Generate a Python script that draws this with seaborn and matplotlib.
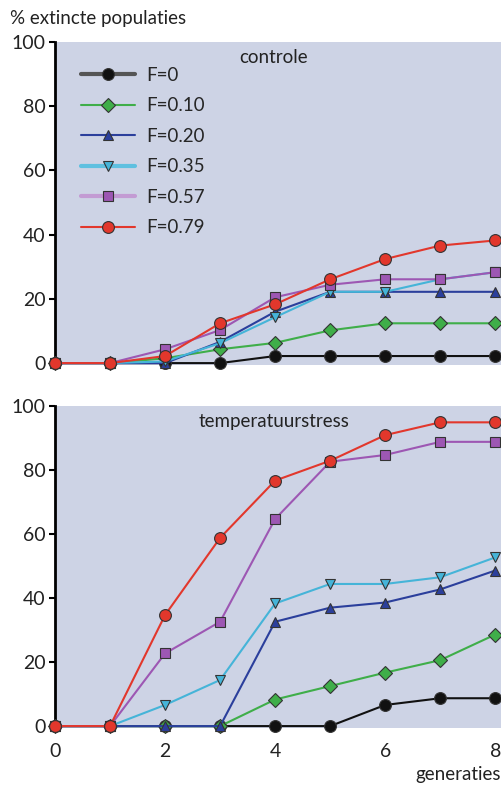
import pandas as pd
import matplotlib
matplotlib.use("Agg")
import matplotlib.pyplot as plt
import seaborn as sns

# Data
generaties = [0, 1, 2, 3, 4, 5, 6, 7, 8]
f_labels = ["F=0", "F=0.10", "F=0.20", "F=0.35", "F=0.57", "F=0.79"]

controle_f000 = [0, 0, 0, 0, 2.2, 2.2, 2.2, 2.2, 2.2]
controle_f010 = [0, 0, 1.5, 4.3, 6.3, 10.2, 12.4, 12.4, 12.4]
controle_f020 = [0, 0, 0, 6.6, 16.0, 22.2, 22.2, 22.2, 22.2]
controle_f035 = [0, 0, 0.5, 6.2, 14.3, 22.2, 22.2, 26.1, 28.3]
controle_f057 = [0, 0, 4.3, 10.3, 20.5, 24.4, 26.1, 26.1, 28.3]
controle_f079 = [0, 0, 2.2, 12.4, 18.3, 26.1, 32.4, 36.6, 38.2]

stress_f000 = [0, 0, 0, 0, 0, 0, 6.6, 8.7, 8.7]
stress_f010 = [0, 0, 0, 0, 8.3, 12.5, 16.7, 20.6, 28.6]
stress_f020 = [0, 0, 0, 0, 32.6, 37.0, 38.6, 42.7, 48.6]
stress_f035 = [0, 0, 6.6, 14.4, 38.3, 44.4, 44.4, 46.5, 52.7]
stress_f057 = [0, 0, 22.7, 32.6, 64.7, 82.6, 84.7, 88.8, 88.8]
stress_f079 = [0, 0, 34.7, 58.8, 76.7, 82.9, 90.9, 94.9, 94.9]

colors = ["#111111", "#3fae49", "#2b3f9c", "#45b4d8", "#9d57b3", "#e2372c"]
markers = ["o", "D", "^", "v", "s", "o"]
msizes = [8.5, 7, 7.5, 7.5, 7, 8.5]
legend_lw = [3, 1.5, 1.5, 3, 3, 1.5]
legend_lc = ["#555555", "#3fae49", "#2b3f9c", "#5fc0e0", "#c39bd3", "#e2372c"]

bg = "#cdd3e5"

sns.set_style("white")
plt.rcParams["font.family"] = ["Lato", "DejaVu Sans"]

fig = plt.figure(figsize=(5.02, 7.85), dpi=100)
ax_top = fig.add_axes([0.1096, 0.535, 0.889, 0.4115])
ax_bot = fig.add_axes([0.1096, 0.0726, 0.889, 0.4102])

panels = [
    (ax_top, [controle_f000, controle_f010, controle_f020, controle_f035, controle_f057, controle_f079], "controle"),
    (ax_bot, [stress_f000, stress_f010, stress_f020, stress_f035, stress_f057, stress_f079], "temperatuurstress"),
]

for ax, series, title in panels:
    for i, vals in enumerate(series):
        df = pd.DataFrame({"generatie": generaties, "pct": vals})
        sns.lineplot(data=df, x="generatie", y="pct", ax=ax, color=colors[i],
                     marker=markers[i], markersize=msizes[i], markeredgecolor="#333333",
                     markeredgewidth=0.8, linewidth=1.5, label=f_labels[i],
                     clip_on=False, zorder=3 + i)
    ax.set_facecolor(bg)
    ax.set_xlim(0, 8.11)
    ax.set_ylim(-0.6, 100)
    ax.set_yticks([0, 20, 40, 60, 80, 100])
    ax.set_xlabel("")
    ax.set_ylabel("")
    for s in ["top", "right", "bottom"]:
        ax.spines[s].set_visible(False)
    ax.spines["left"].set_color("black")
    ax.spines["left"].set_linewidth(2)
    ax.tick_params(axis="y", direction="out", length=4, width=1.5, color="black",
                   labelsize=14, pad=3, left=True, labelcolor="#222222")
    ax.text(0.49, 0.952, title, transform=ax.transAxes, ha="center", va="center",
            fontsize=13.5, color="#222222")

ax_top.set_xticks([])
ax_bot.set_xticks([0, 2, 4, 6, 8])
ax_bot.tick_params(axis="x", length=0, labelsize=14, pad=11, labelcolor="#222222")

# legend only in the top panel
ax_bot.get_legend().remove()
leg = ax_top.legend(loc="upper left", bbox_to_anchor=(0.02, 0.975), frameon=False,
                    fontsize=13.5, handlelength=2.9, labelspacing=0.72, handletextpad=0.6)
for i, h in enumerate(leg.get_lines()):
    h.set_linewidth(legend_lw[i])
    h.set_color(legend_lc[i])
    h.set_markerfacecolor(colors[i])

fig.text(0.02, 0.977, "% extincte populaties", ha="left", va="center", fontsize=13.5, color="#222222")
fig.text(0.997, 0.013, "generaties", ha="right", va="center", fontsize=13.5, color="#222222")

fig.savefig("out.png", dpi=100)
